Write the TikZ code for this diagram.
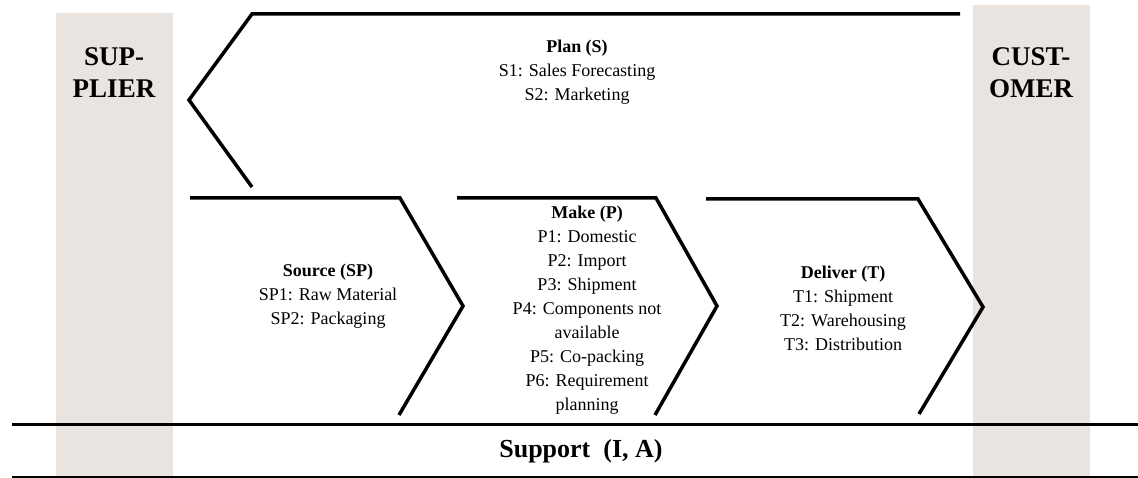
\documentclass[tikz,border=0pt]{standalone}
\usepackage{fontspec}
\setmainfont{Liberation Serif}
\usepackage{tikz}
\definecolor{partner}{RGB}{233,228,224}

\begin{document}
\begin{tikzpicture}[x=1pt, y=-1pt, line join=miter,
  chevron/.style={line width=3.5pt},
  stage/.style={align=center, font=\fontsize{18}{24}\selectfont},
  partnerlabel/.style={align=center, font=\fontsize{27}{32}\selectfont\bfseries}]
\useasboundingbox (0,0) rectangle (1138,478);
%columns
\fill[partner] (56,13) rectangle (173,478);
\fill[partner] (973,5) rectangle (1090,478);
\node (SUP) [partnerlabel] at (114,73) {SUP-\\PLIER};
\node (CUST) [partnerlabel] at (1031,73) {CUST-\\OMER};

%chevrons
\draw[chevron] (960,14) -- (252,14) -- (189,100) -- (252,187);
\draw[chevron] (190,198) -- (400,198) -- (463,306) -- (399,415);
\draw[chevron] (457,198) -- (656,198) -- (717,306) -- (655,415);
\draw[chevron] (706,199) -- (918,199) -- (983,307) -- (919,414);

%texts
\node (Plan) [stage] at (577,72) {\textbf{Plan (S)}\\S1: Sales Forecasting\\S2: Marketing};
\node (Source) [stage] at (328,296) {\textbf{Source (SP)}\\SP1: Raw Material\\SP2: Packaging};
\node (Make) [stage] at (587,310) {\textbf{Make (P)}\\P1: Domestic\\P2: Import\\P3: Shipment\\P4: Components not\\available\\P5: Co-packing\\P6: Requirement\\planning};
\node (Deliver) [stage] at (843,308) {\textbf{Deliver (T)}\\T1: Shipment\\T2: Warehousing\\T3: Distribution};

%support
\draw[line width=3pt] (12,424) -- (1138,424);
\draw[line width=1.5pt] (12,477) -- (1138,477);
\node (Support) [font=\fontsize{26}{30}\selectfont\bfseries] at (581,451) {Support\ \ (I, A)};
\end{tikzpicture}
\end{document}
